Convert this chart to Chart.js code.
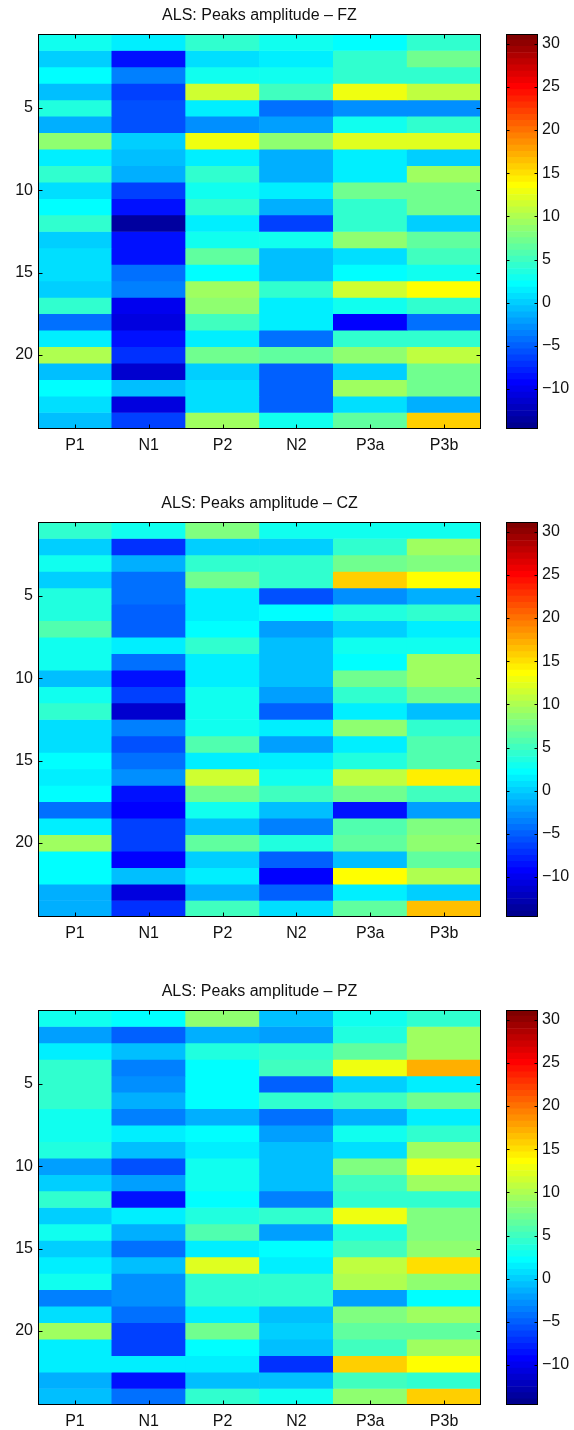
<!DOCTYPE html>
<html lang="en">
<head>
<meta charset="UTF-8">
<title>ALS: Peaks amplitude</title>
<script src="https://cdn.jsdelivr.net/npm/chart.js"></script>
<style>
  body { margin: 0; background: #fff; }
  #page { position: relative; width: 574px; height: 1430px; overflow: hidden; }
  canvas { position: absolute; }
</style>
</head>
<body>
<div id="page">
  <!-- FZ -->
  <canvas id="fzMap" width="490" height="460" style="left:0;top:0"></canvas>
  <canvas id="fzBar" width="74" height="460" style="left:500px;top:0"></canvas>
  <!-- CZ -->
  <canvas id="czMap" width="490" height="460" style="left:0;top:488px"></canvas>
  <canvas id="czBar" width="74" height="460" style="left:500px;top:488px"></canvas>
  <!-- PZ -->
  <canvas id="pzMap" width="490" height="460" style="left:0;top:976px"></canvas>
  <canvas id="pzBar" width="74" height="460" style="left:500px;top:976px"></canvas>
</div>

<script>
// Peak names (columns) and axis ticks
const peaks = ['P1', 'N1', 'P2', 'N2', 'P3a', 'P3b'];
const subjectTicks = [5, 10, 15, 20];
const colorbarTicks = [-10, -5, 0, 5, 10, 15, 20, 25, 30];
const colorMin = -14.64;
const colorMax = 31.13;
const panelTitles = ['ALS: Peaks amplitude \u2013 FZ', 'ALS: Peaks amplitude \u2013 CZ', 'ALS: Peaks amplitude \u2013 PZ'];

// FZ amplitudes, one array per peak, subjects 1..24
const fzP1  = [2.6, -0.3, 2.0, -0.7, 3.5, -1.7, 8.4, 1.2, 4.0, 0.5, 2.0, 4.5, -0.3, 0.5, 0.5, -0.3, 4.0, -4.6, 1.2, 10.2, -0.7, 2.0, 0.5, -0.7];
const fzN1  = [1.5, -8.9, -3.8, -6.5, -6.0, -6.0, -0.3, -0.7, -1.7, -6.5, -8.3, -13.5, -8.3, -8.3, -4.6, -3.8, -10.0, -10.8, -8.3, -7.3, -11.2, -0.7, -10.8, -6.5];
const fzP2  = [4.2, 0.5, 3.2, 11.5, 1.2, -3.1, 13.0, 1.2, 4.0, 3.2, 4.5, 1.6, 2.6, 6.3, 2.0, 9.0, 8.4, 5.3, 1.2, 7.3, -0.3, 0.5, 0.5, 9.0];
const fzN2  = [3.2, 1.2, 3.2, 5.3, -4.6, -2.4, 8.4, -1.7, -1.7, 1.2, -1.7, -6.5, 2.6, -0.7, -0.7, 4.5, 1.2, 1.6, -4.6, 6.3, -5.3, -5.3, -5.3, 2.6];
const fzP3a = [2.0, 4.0, 4.5, 13.0, -3.1, 2.6, 12.3, 1.2, 1.2, 7.3, 4.5, 4.0, 8.4, 0.5, 2.0, 11.5, 2.6, -9.2, 4.5, 8.4, -0.3, 9.0, 0.5, 6.3];
const fzP3b = [4.0, 7.5, 4.5, 10.5, -3.1, 4.5, 12.3, -0.3, 9.0, 7.3, 7.3, -0.3, 6.3, 5.3, 3.2, 13.5, 4.5, -4.6, 4.5, 11.0, 7.3, 7.3, -1.7, 16.0];

// CZ amplitudes
const czP1  = [4.5, -0.3, 2.6, 0.1, 3.5, 3.5, 5.5, 2.6, 2.6, -0.5, 2.6, 4.5, 0.5, 0.5, 2.3, 1.6, 2.3, -4.6, 1.6, 9.0, 2.0, 2.0, -1.7, -1.3];
const czN1  = [2.6, -7.3, -1.7, -4.6, -4.6, -5.3, -5.3, 1.2, -4.6, -8.9, -6.5, -11.2, -3.8, -6.0, -4.6, -3.1, -8.3, -9.6, -6.5, -6.5, -9.0, -0.5, -10.5, -7.3];
const czP2  = [7.8, -0.3, 4.5, 7.0, 1.2, 1.2, 2.0, 4.0, 1.2, 1.6, 3.2, 2.6, 2.6, 5.5, 1.6, 11.5, 7.3, 2.6, -0.5, 6.3, 0.1, 1.2, -1.3, 5.3];
const czN2  = [2.6, -0.3, 4.5, 4.5, -6.0, 2.0, -2.4, -0.7, -0.7, -0.7, -2.4, -5.3, 1.2, -2.4, 1.2, 2.6, 5.3, -0.5, -3.8, 3.3, -5.3, -9.6, -5.3, 0.5];
const czP3a = [2.6, 4.0, 7.3, 16.0, -3.1, 3.3, 0.2, 2.6, 2.0, 7.3, 4.0, 1.6, 8.4, 1.2, 3.3, 11.0, 7.3, -8.3, 5.5, 6.3, -0.5, 13.5, 1.2, 6.3];
const czP3b = [2.6, 9.0, 7.8, 13.5, -1.7, 4.5, 1.2, 2.6, 9.0, 9.0, 7.3, -0.7, 4.0, 5.5, 5.5, 14.1, 5.3, -2.4, 7.8, 8.4, 6.3, 10.3, 0.1, 16.5];

// PZ amplitudes
const pzP1  = [2.6, -2.4, 1.2, 4.5, 4.0, 4.0, 2.6, 2.6, 3.3, -2.4, 0.1, 4.5, -0.3, 2.6, 0.1, 1.6, 2.6, -3.8, 0.8, 9.0, 1.2, 1.6, -1.7, -0.7];
const pzN1  = [2.3, -5.3, -0.7, -3.8, -2.8, -1.3, -3.8, 1.2, -0.7, -6.0, -2.0, -8.6, 1.2, -1.7, -4.6, -0.7, -3.1, -2.8, -4.6, -6.5, -6.5, 1.6, -8.9, -4.6];
const pzP2  = [8.4, -1.3, 3.3, 2.0, 2.0, 2.0, -1.3, 2.3, 1.2, 2.6, 3.0, 2.3, 3.3, 5.5, 1.6, 12.3, 4.5, 4.5, 1.6, 7.0, 2.3, 1.6, -0.5, 4.5];
const pzN2  = [-0.7, -2.4, 4.0, 5.3, -5.3, 4.5, -4.6, -2.4, -0.7, -0.7, -0.5, -3.8, 4.5, -2.0, 2.3, 1.6, 4.5, 4.5, -0.7, 0.1, -0.5, -7.3, -0.5, 2.6];
const pzP3a = [2.6, 3.3, 6.3, 13.0, -0.3, 5.3, -1.3, 2.6, 0.5, 7.8, 5.3, 4.0, 13.0, 3.3, 5.3, 11.0, 10.3, -2.0, 7.8, 6.3, 5.3, 16.0, 5.3, 8.4];
const pzP3b = [4.5, 9.0, 9.0, 17.3, 1.6, 7.3, 1.2, 4.5, 9.0, 13.0, 9.0, 4.0, 7.8, 7.8, 8.4, 14.8, 8.4, 2.0, 9.0, 6.3, 9.0, 13.5, 4.5, 16.0];

const panelColumns = [
    [fzP1, fzN1, fzP2, fzN2, fzP3a, fzP3b],
    [czP1, czN1, czP2, czN2, czP3a, czP3b],
    [pzP1, pzN1, pzP2, pzN2, pzP3a, pzP3b]
];
const panelIds = ['fz', 'cz', 'pz'];

const textColor = '#111';
const font = { family: '"Liberation Sans", Arial, Helvetica, sans-serif', size: 16 };
const LEVELS = 64;

// MATLAB jet(64), k = 0..63
function jet(k) {
    const u = i => (i < 1 || i > 47) ? 0 : (i <= 16 ? i / 16 : (i <= 31 ? 1 : (48 - i) / 16));
    const K = k + 1;
    const c = v => Math.round(255 * v);
    return `rgb(${c(u(K - 24))},${c(u(K - 8))},${c(u(K + 8))})`;
}

function colorFor(v) {
    const k = Math.floor((v - colorMin) / (colorMax - colorMin) * LEVELS);
    return jet(Math.max(0, Math.min(LEVELS - 1, k)));
}

// box around the axes plus inward tick marks, like MATLAB
const frameTicks = {
    id: 'frameTicks',
    afterDatasetsDraw(chart, args, opts) {
        const { ctx, chartArea: a, scales } = chart;
        const L = Math.round(a.left) + 0.5, R = Math.round(a.right) - 0.5;
        const T = Math.round(a.top) + 0.5, B = Math.round(a.bottom) - 0.5;
        ctx.save();
        ctx.strokeStyle = '#000';
        ctx.lineWidth = 1;
        ctx.beginPath();
        if (opts.xTicks) {
            scales.x.ticks.forEach((t, i) => {
                const px = Math.round(scales.x.getPixelForTick(i)) + 0.5;
                ctx.moveTo(px, B); ctx.lineTo(px, B - opts.len);
                ctx.moveTo(px, T); ctx.lineTo(px, T + opts.len);
            });
        }
        scales.y.ticks.forEach(t => {
            const py = Math.round(scales.y.getPixelForValue(t.value)) + 0.5;
            ctx.moveTo(L, py); ctx.lineTo(L + opts.len, py);
            ctx.moveTo(R, py); ctx.lineTo(R - opts.len, py);
        });
        ctx.stroke();
        ctx.strokeRect(L, T, R - L, B - T);
        ctx.restore();
    }
};

panelIds.forEach((id, p) => {
    const columns = panelColumns[p];
    const rows = columns[0].map((_, r) => r + 1);

    // Heatmap: one floating-bar dataset per subject row
    new Chart(document.getElementById(id + 'Map'), {
        type: 'bar',
        data: {
            labels: peaks,
            datasets: rows.map((row, r) => ({
                data: columns.map(() => [row - 0.5, row + 0.5]),
                backgroundColor: columns.map(col => colorFor(col[r])),
                borderWidth: 0,
                grouped: false,
                barPercentage: 1,
                categoryPercentage: 1
            }))
        },
        options: {
            responsive: false,
            animation: false,
            devicePixelRatio: 1,
            layout: { padding: { right: 9 } },
            plugins: {
                legend: { display: false },
                tooltip: { enabled: false },
                title: {
                    display: true,
                    text: panelTitles[p],
                    fullSize: false,
                    color: textColor,
                    font: { ...font, weight: 'normal' },
                    padding: { top: 6.4, bottom: 8.4 }
                },
                frameTicks: { xTicks: true, len: 4 }
            },
            scales: {
                x: {
                    grid: { display: false, drawTicks: false },
                    border: { display: false },
                    ticks: { color: textColor, font, padding: 7, maxRotation: 0, autoSkip: false },
                    afterFit: s => { s.height = 31; }
                },
                y: {
                    type: 'linear',
                    min: 0.5,
                    max: 24.5,
                    reverse: true,
                    grid: { display: false, drawTicks: false },
                    border: { display: false },
                    afterBuildTicks: s => { s.ticks = subjectTicks.map(v => ({ value: v })); },
                    ticks: { color: textColor, font, padding: 5 },
                    afterFit: s => { s.width = 38; }
                }
            }
        },
        plugins: [frameTicks]
    });

    // Colorbar: one band per colormap level
    const step = (colorMax - colorMin) / LEVELS;
    const levels = Array.from({ length: LEVELS }, (_, k) => k);
    new Chart(document.getElementById(id + 'Bar'), {
        type: 'bar',
        data: {
            labels: [''],
            datasets: levels.map(k => ({
                data: [[colorMin + k * step, colorMin + (k + 1) * step]],
                backgroundColor: jet(k),
                borderWidth: 0,
                grouped: false,
                barPercentage: 1,
                categoryPercentage: 1
            }))
        },
        options: {
            responsive: false,
            animation: false,
            devicePixelRatio: 1,
            layout: { padding: { top: 34, bottom: 31, left: 6 } },
            plugins: {
                legend: { display: false },
                tooltip: { enabled: false },
                frameTicks: { xTicks: false, len: 3 }
            },
            scales: {
                x: { display: false },
                y: {
                    position: 'right',
                    min: colorMin,
                    max: colorMax,
                    grid: { display: false, drawTicks: false },
                    border: { display: false },
                    afterBuildTicks: s => { s.ticks = colorbarTicks.map(v => ({ value: v })); },
                    ticks: { color: textColor, font, padding: 4, callback: v => String(v).replace('-', '\u2212') },
                    afterFit: s => { s.width = 36; }
                }
            }
        },
        plugins: [frameTicks]
    });
});
</script>
</body>
</html>
